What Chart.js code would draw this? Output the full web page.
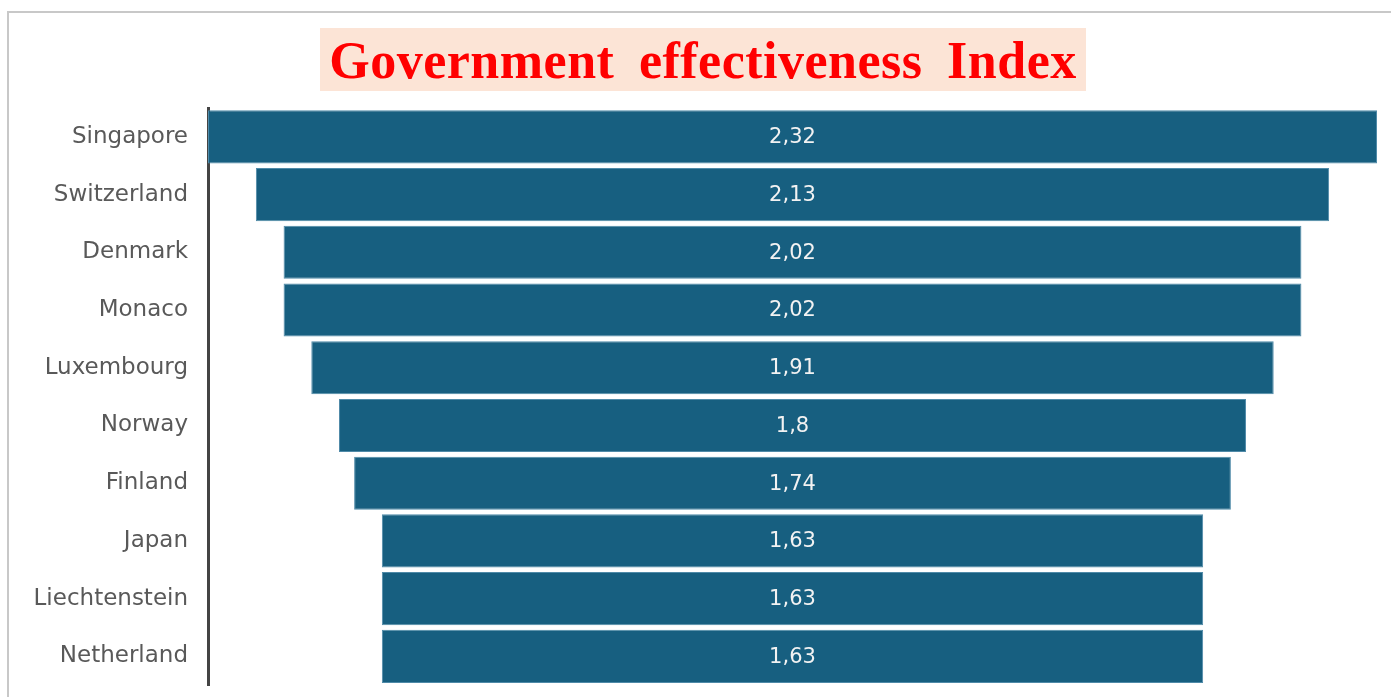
<!DOCTYPE html>
<html>
<head>
<meta charset="utf-8">
<script src="https://cdn.jsdelivr.net/npm/chart.js@4"></script>
<style>
    html, body { margin: 0; padding: 0; background: #fff; }
    body { width: 1391px; height: 697px; position: relative; overflow: hidden; }
    .frame {
        position: absolute; left: 7px; top: 11px; right: -5px; bottom: -5px;
        border-top: 2px solid #c8c8c8; border-left: 2px solid #c8c8c8;
    }
    .title {
        position: absolute; left: 320px; top: 28px; width: 766px; height: 63px;
        background: #fce4d6; color: #ff0000;
        font-family: "Liberation Serif", "Times New Roman", serif; font-weight: bold;
        font-size: 52px; line-height: 66px; text-align: center; word-spacing: 11px; letter-spacing: 0.5px;
        white-space: nowrap;
    }
    #chart { position: absolute; left: 0; top: 0; }
</style>
</head>
<body>
<div class="frame"></div>
<div class="title">Government effectiveness Index</div>
<canvas id="chart" width="1391" height="719"></canvas>
<script>
// Data
const countries = ['Singapore', 'Switzerland', 'Denmark', 'Monaco', 'Luxembourg',
    'Norway', 'Finland', 'Japan', 'Liechtenstein', 'Netherland'];
const scores = [2.32, 2.13, 2.02, 2.02, 1.91, 1.8, 1.74, 1.63, 1.63, 1.63];

// Funnel: each bar floats centred on zero
const funnelRanges = scores.map(v => [-v / 2, v / 2]);

// Value labels in the middle of each bar
const valueLabels = {
    id: 'valueLabels',
    afterDatasetsDraw(chart) {
        const ctx = chart.ctx;
        const meta = chart.getDatasetMeta(0);
        ctx.save();
        ctx.fillStyle = '#f2f2f2';
        ctx.font = '21px "DejaVu Sans", sans-serif';
        ctx.textAlign = 'center';
        ctx.textBaseline = 'middle';
        meta.data.forEach((bar, i) => {
            const text = String(scores[i]).replace('.', ',');
            ctx.fillText(text, chart.scales.x.getPixelForValue(0), bar.y + 1);
        });
        ctx.restore();
    }
};

new Chart(document.getElementById('chart'), {
    type: 'bar',
    data: {
        labels: countries,
        datasets: [{
            data: funnelRanges,
            backgroundColor: '#175f80',
            borderColor: '#4f8aa8',
            borderWidth: 1,
            borderSkipped: false,
            categoryPercentage: 1,
            barPercentage: 0.92
        }]
    },
    options: {
        indexAxis: 'y',
        responsive: false,
        animation: false,
        layout: { padding: { top: 108, bottom: 12, right: 14, left: 0 } },
        plugins: {
            legend: { display: false },
            tooltip: { enabled: false }
        },
        scales: {
            x: {
                display: false,
                min: -1.16,
                max: 1.16
            },
            y: {
                grid: { display: false, drawTicks: false },
                border: { display: true, color: '#444444', width: 3 },
                ticks: {
                    color: '#595959',
                    padding: 20,
                    font: { size: 23, family: '"DejaVu Sans", sans-serif' }
                },
                afterFit(scale) { scale.width = 208; }
            }
        }
    },
    plugins: [valueLabels]
});
</script>
</body>
</html>
